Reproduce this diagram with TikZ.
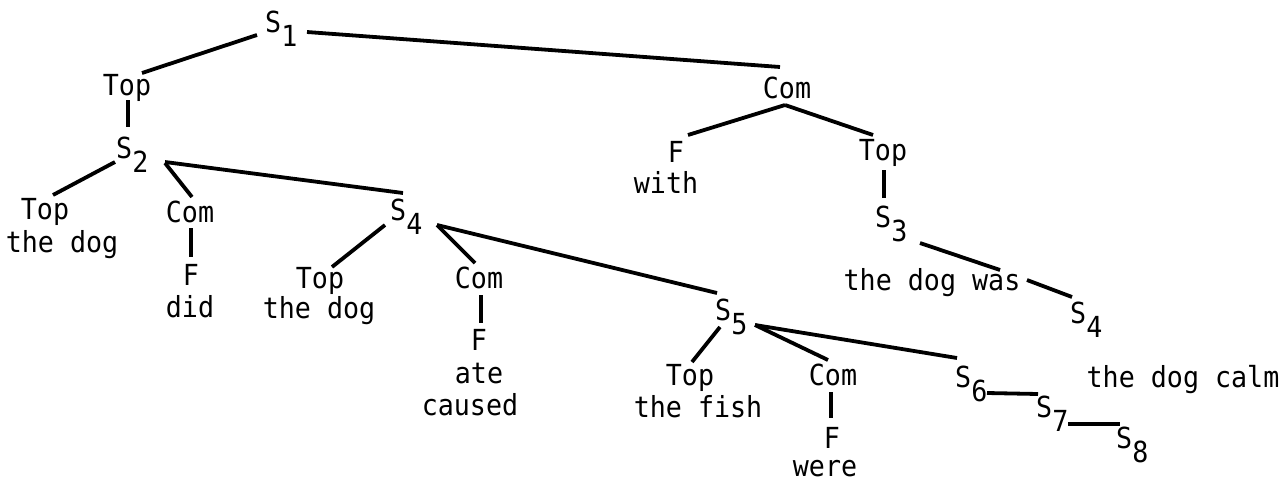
\documentclass[tikz,border=0pt]{standalone}
\usepackage{fontspec}
\newfontfamily\twfont[FakeStretch=0.92]{DejaVu Sans Mono}
\usetikzlibrary{calc}
\newcommand\Ssub[1]{S\raisebox{-14pt}{#1}}
\tikzset{
  lbl/.style={font=\twfont\fontsize{29}{31}\selectfont, inner sep=0pt, anchor=base},
  snode/.style={font=\twfont\fontsize{29}{31}\selectfont, inner sep=0pt, anchor=base west},
  edge/.style={line width=3.8pt, black}
}
\begin{document}
\begin{tikzpicture}[x=1pt,y=-1pt]
\useasboundingbox[fill=white] (0,0) rectangle (1286,483);
% S nodes
\node[snode] (s1) at (265,32) {\Ssub{1}};
\node[snode] (s2) at (116,158) {\Ssub{2}};
\node[snode] (s4) at (390,220) {\Ssub{4}};
\node[snode] (s5) at (715,320) {\Ssub{5}};
\node[snode] (s3) at (875,227) {\Ssub{3}};
\node[snode] (s4r) at (1070,323) {\Ssub{4}};
\node[snode] (s6) at (955,387) {\Ssub{6}};
\node[snode] (s7) at (1036,417) {\Ssub{7}};
\node[snode] (s8) at (1116,448) {\Ssub{8}};
% labels
\node[lbl] (top1) at (127,95) {Top};
\node[lbl] (top2) at (45,219) {Top};
\node[lbl] (w2) at (62,252) {the dog};
\node[lbl] (com2) at (190,222) {Com};
\node[lbl] (f2) at (191,285) {F};
\node[lbl] (w3) at (190,317) {did};
\node[lbl] (top4) at (320,288) {Top};
\node[lbl] (w4) at (319,318) {the dog};
\node[lbl] (com4) at (479,288) {Com};
\node[lbl] (f4) at (479,350) {F};
\node[lbl] (w5) at (479,383) {ate};
\node[lbl] (w6) at (470,415) {caused};
\node[lbl] (top5) at (690,385) {Top};
\node[lbl] (w7) at (698,417) {the fish};
\node[lbl] (com5) at (833,385) {Com};
\node[lbl] (f5) at (832,448) {F};
\node[lbl] (w8) at (825,476) {were};
\node[lbl] (comR) at (787,98) {Com};
\node[lbl] (fR) at (676,162) {F};
\node[lbl] (w9) at (666,193) {with};
\node[lbl] (topR) at (883,160) {Top};
\node[lbl] (w10) at (932,290) {the dog was};
\node[lbl] (w11) at (1183,387) {the dog calm};
% connectors
\draw[edge] ($(s1.base west)+(-8,3)$) -- ($(top1.base)+(15,-22)$);
\draw[edge] ($(s1.base west)+(42,0)$) -- ($(comR.base)+(-7,-31)$);
\draw[edge] ($(top1.base)+(1,5)$) -- ($(s2.base west)+(12,-31)$);
\draw[edge] ($(s2.base west)+(-1,4)$) -- ($(top2.base)+(8,-24)$);
\draw[edge] ($(s2.base west)+(49,5)$) -- ($(com2.base)+(2,-25)$);
\draw[edge] ($(s2.base west)+(49,4)$) -- ($(s4.base west)+(13,-27)$);
\draw[edge] ($(com2.base)+(1,6)$) -- ($(f2.base)+(0,-28)$);
\draw[edge] ($(s4.base west)+(-5,5)$) -- ($(top4.base)+(12,-21)$);
\draw[edge] ($(s4.base west)+(47,5)$) -- ($(com4.base)+(-4,-25)$);
\draw[edge] ($(s4.base west)+(47,5)$) -- ($(s5.base west)+(2,-27)$);
\draw[edge] ($(com4.base)+(2,7)$) -- ($(f4.base)+(2,-27)$);
\draw[edge] ($(s5.base west)+(5,7)$) -- ($(top5.base)+(2,-23)$);
\draw[edge] ($(s5.base west)+(40,5)$) -- ($(com5.base)+(-5,-25)$);
\draw[edge] ($(s5.base west)+(40,5)$) -- ($(s6.base west)+(2,-29)$);
\draw[edge] ($(com5.base)+(-2,7)$) -- ($(f5.base)+(-1,-30)$);
\draw[edge] ($(s6.base west)+(32,6)$) -- ($(s7.base west)+(2,-23)$);
\draw[edge] ($(s7.base west)+(32,7)$) -- ($(s8.base west)+(4,-24)$);
\draw[edge] ($(comR.base)+(-2,7)$) -- ($(fR.base)+(12,-27)$);
\draw[edge] ($(comR.base)+(-2,7)$) -- ($(topR.base)+(-10,-25)$);
\draw[edge] ($(topR.base)+(1,10)$) -- ($(s3.base west)+(9,-29)$);
\draw[edge] ($(s3.base west)+(45,16)$) -- ($(w10.base)+(68,-20)$);
\draw[edge] ($(w10.base)+(95,-10)$) -- ($(s4r.base west)+(2,-26)$);
\end{tikzpicture}
\end{document}
